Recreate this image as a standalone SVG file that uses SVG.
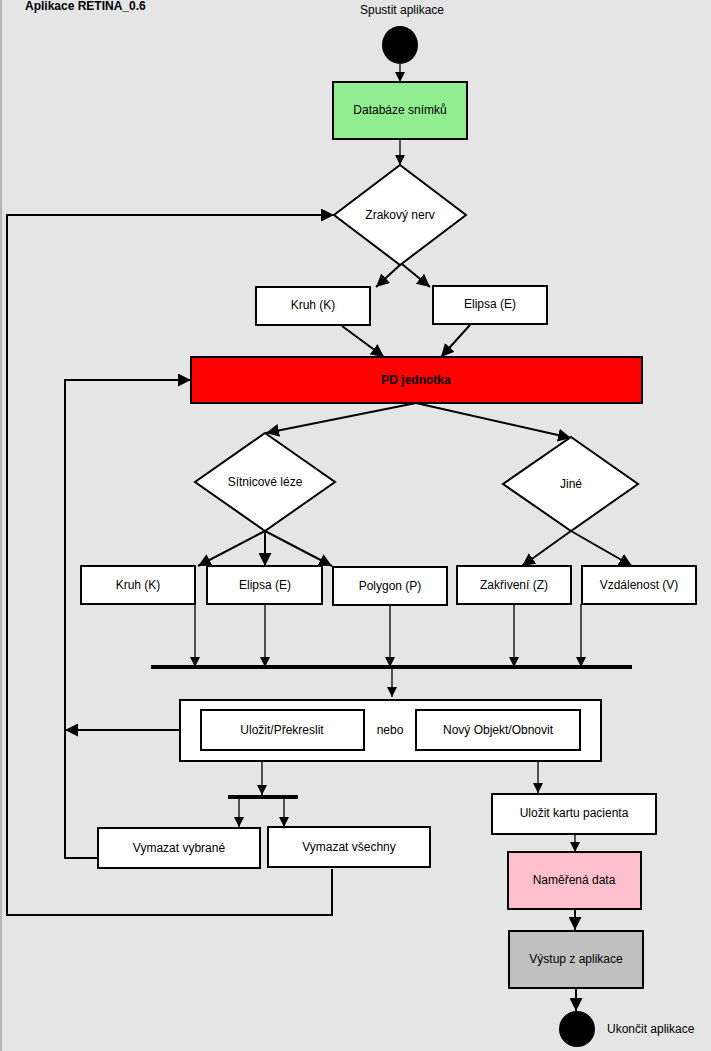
<svg xmlns="http://www.w3.org/2000/svg" width="711" height="1051" viewBox="0 0 711 1051">
<style>
text{font-family:"Liberation Sans",Arial,sans-serif;font-size:12px;fill:#000;text-anchor:middle;dominant-baseline:middle}
.b{fill:#fff;stroke:#000;stroke-width:2}
.c{fill:none;stroke:#000;stroke-width:1.3}
.t{fill:none;stroke:#000;stroke-width:2}
.bar{stroke:#000;stroke-width:4}
</style>
<defs>
<marker id="a" viewBox="0 0 10 10" refX="10" refY="5" markerWidth="10" markerHeight="10" markerUnits="userSpaceOnUse" orient="auto"><path d="M0,0L10,5L0,10z"/></marker>
<marker id="A" viewBox="0 0 10 10" refX="10" refY="5" markerWidth="13" markerHeight="13" markerUnits="userSpaceOnUse" orient="auto"><path d="M0,0L10,5L0,10z"/></marker>
</defs>
<rect width="711" height="1051" fill="#e5e5e5"/>
<line x1="1" y1="0" x2="1" y2="1051" stroke="#888"/>
<text x="25" y="7" style="font-weight:bold;text-anchor:start">Aplikace RETINA_0.6</text>
<g id="connectors">
<path class="c" d="M400,64V82" marker-end="url(#a)"/>
<path class="c" d="M400,139V165" marker-end="url(#a)"/>
<path class="t" d="M425,242L376,287" marker-end="url(#A)"/>
<path class="t" d="M375,242L430,287" marker-end="url(#A)"/>
<path class="t" d="M342,326L384,357" marker-end="url(#A)"/>
<path class="t" d="M470,325L441,357" marker-end="url(#A)"/>
<path class="t" d="M416,403L266,433" marker-end="url(#A)"/>
<path class="t" d="M416,403L571,438" marker-end="url(#A)"/>
<path class="t" d="M265,531L198,566" marker-end="url(#A)"/>
<path class="t" d="M265,531V566" marker-end="url(#A)"/>
<path class="t" d="M265,531L332,566" marker-end="url(#A)"/>
<path class="t" d="M571,531L522,566" marker-end="url(#A)"/>
<path class="t" d="M571,531L632,566" marker-end="url(#A)"/>
<path class="c" d="M195,604V667" marker-end="url(#a)"/>
<path class="c" d="M265,604V667" marker-end="url(#a)"/>
<path class="c" d="M390,605V667" marker-end="url(#a)"/>
<path class="c" d="M514,604V667" marker-end="url(#a)"/>
<path class="c" d="M581,604V667" marker-end="url(#a)"/>
<line class="bar" x1="151" y1="667" x2="632" y2="667"/>
<path class="c" d="M392,669V697" marker-end="url(#a)"/>
<path class="t" d="M180,730H65" marker-end="url(#A)"/>
<path class="t" d="M98,858H65V380H191" marker-end="url(#A)"/>
<path class="t" d="M332,869V915H7V215H334" marker-end="url(#A)"/>
<path class="c" d="M262,761V795" marker-end="url(#a)"/>
<line class="bar" x1="228" y1="797" x2="298" y2="797"/>
<path class="c" d="M239,799V827" marker-end="url(#a)"/>
<path class="c" d="M284,799V827" marker-end="url(#a)"/>
<path class="c" d="M538,761V793" marker-end="url(#a)"/>
<path class="c" d="M575,834V852" marker-end="url(#a)"/>
<path class="t" d="M575,909V930" marker-end="url(#A)"/>
<path class="t" d="M576,988V1011" marker-end="url(#A)"/>
</g>
<g id="start"><ellipse cx="400" cy="45" rx="18" ry="19"/><text x="402" y="11">Spustit aplikace</text></g>
<g id="db"><rect class="b" x="333" y="82" width="134" height="57" fill="#90ee90" style="fill:#90ee90"/><text x="400" y="111">Databáze snímků</text></g>
<g id="zrak"><path class="b" d="M400,165L466,215L400,265L334,215z"/><text x="400" y="216">Zrakový nerv</text></g>
<g id="kruh1"><rect class="b" x="256" y="287" width="114" height="38"/><text x="313" y="306">Kruh (K)</text></g>
<g id="elipsa1"><rect class="b" x="433" y="286" width="114" height="38"/><text x="490" y="305">Elipsa (E)</text></g>
<g id="pd"><rect class="b" x="191" y="357" width="451" height="46" style="fill:#ff0000"/><text x="416" y="381" style="font-weight:bold">PD jednotka</text></g>
<g id="sit"><path class="b" d="M265,433L335,482L265,531L195,482z"/><text x="265" y="483">Sítnicové léze</text></g>
<g id="jine"><path class="b" d="M571,437L638,484L571,531L503,484z"/><text x="571" y="485">Jiné</text></g>
<g id="kruh2"><rect class="b" x="81" y="566" width="114" height="38"/><text x="138" y="586">Kruh (K)</text></g>
<g id="elipsa2"><rect class="b" x="207" y="566" width="115" height="38"/><text x="265" y="586">Elipsa (E)</text></g>
<g id="polygon"><rect class="b" x="333" y="567" width="114" height="38"/><text x="390" y="587">Polygon (P)</text></g>
<g id="zak"><rect class="b" x="457" y="566" width="114" height="38"/><text x="514" y="586">Zakřivení (Z)</text></g>
<g id="vzd"><rect class="b" x="582" y="566" width="114" height="38"/><text x="639" y="586">Vzdálenost (V)</text></g>
<g id="choice"><rect class="b" x="180" y="700" width="421" height="61"/>
<rect class="b" x="201" y="710" width="163" height="40"/><text x="282" y="731">Uložit/Překreslit</text>
<text x="390" y="731">nebo</text>
<rect class="b" x="416" y="710" width="164" height="40"/><text x="498" y="731">Nový Objekt/Obnovit</text></g>
<g id="vyb"><rect class="b" x="98" y="828" width="162" height="40"/><text x="179" y="849">Vymazat vybrané</text></g>
<g id="vse"><rect class="b" x="268" y="827" width="162" height="40"/><text x="349" y="848">Vymazat všechny</text></g>
<g id="karta"><rect class="b" x="492" y="794" width="164" height="40"/><text x="574" y="814">Uložit kartu pacienta</text></g>
<g id="data"><rect class="b" x="508" y="852" width="133" height="57" style="fill:#ffc0cb"/><text x="574" y="881">Naměřená data</text></g>
<g id="vystup"><rect class="b" x="509" y="931" width="134" height="57" style="fill:#c0c0c0"/><text x="576" y="960">Výstup z aplikace</text></g>
<g id="end"><circle cx="577" cy="1029" r="18"/><text x="607" y="1030" style="text-anchor:start">Ukončit aplikace</text></g>
</svg>
